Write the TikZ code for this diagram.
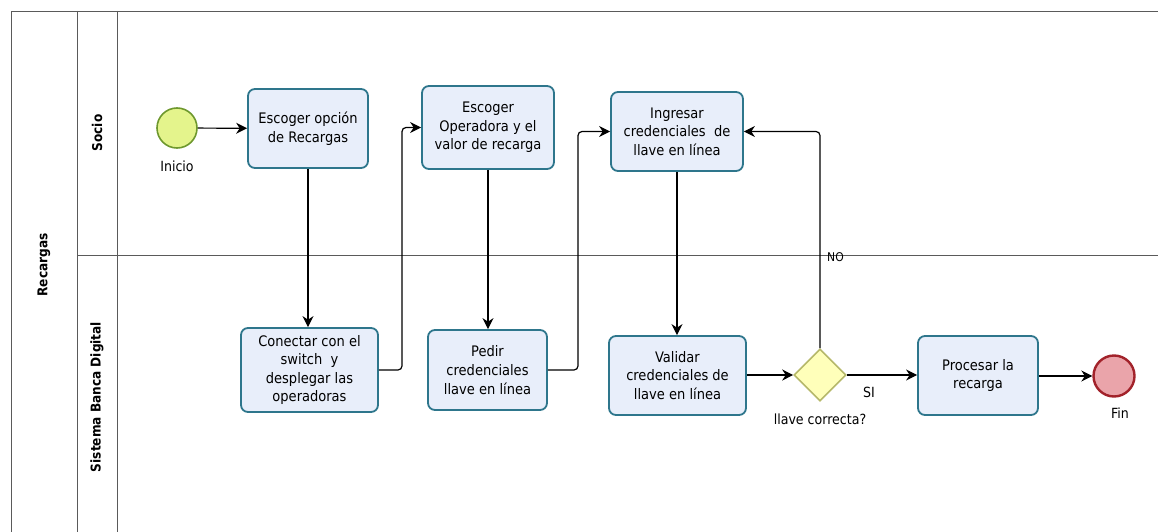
\documentclass[tikz,border=0pt]{standalone}
\usepackage{fontspec}
\setmainfont{DejaVu Sans Condensed}
\usetikzlibrary{arrows.meta,shapes.geometric}

\definecolor{taskfill}{RGB}{232,238,250}
\definecolor{taskline}{RGB}{46,118,140}
\definecolor{startfill}{RGB}{228,244,140}
\definecolor{startline}{RGB}{110,152,46}
\definecolor{endfill}{RGB}{234,164,170}
\definecolor{endline}{RGB}{162,34,42}
\definecolor{gwfill}{RGB}{255,255,186}
\definecolor{gwline}{RGB}{182,184,106}
\definecolor{poolline}{RGB}{90,90,90}

\tikzset{
  task/.style={draw=taskline, fill=taskfill, line width=1.8pt, rounded corners=7pt,
    align=center, font=\fontsize{14.5}{18.6}\selectfont, inner sep=0pt},
  startev/.style={circle, draw=startline, fill=startfill, line width=1.6pt,
    minimum size=40pt, inner sep=0pt},
  endev/.style={circle, draw=endline, fill=endfill, line width=2.4pt,
    minimum size=41pt, inner sep=0pt},
  gateway/.style={diamond, draw=gwline, fill=gwfill, line width=1.6pt,
    minimum width=52pt, minimum height=52pt, inner sep=0pt},
  flow/.style={draw=black, line width=1.2pt, rounded corners=4pt,
    -{Stealth[length=11pt,width=11pt]}},
  lbl/.style={font=\fontsize{14}{16}\selectfont, inner sep=1pt},
  lanelbl/.style={font=\bfseries\fontsize{13.5}{15}\selectfont, rotate=90, inner sep=0pt},
  pool/.style={draw=poolline, line width=0.9pt}
}

\begin{document}
\begin{tikzpicture}[x=1pt, y=-1pt]
  \useasboundingbox (0,0) rectangle (1158,532);

  % pool and lanes
  \draw[pool] (11,532) -- (11,11) -- (1158,11);
  \draw[pool] (77,11) -- (77,532);
  \draw[pool] (117,11) -- (117,532);
  \draw[pool] (77,255) -- (1158,255);
  \node[lanelbl] (pname) at (44,265) {Recargas};
  \node[lanelbl] (lane1) at (97,133) {Socio};
  \node[lanelbl] (lane2) at (97,397) {Sistema Banca Digital};

  % events and tasks
  \node[startev] (start) at (177,128) {};
  \node[lbl, anchor=north] (startlbl) at (177,160) {Inicio};

  \node[task, minimum width=120pt, minimum height=79pt] (t1) at (308,128.5)
    {Escoger opción\\de Recargas};
  \node[task, minimum width=132pt, minimum height=83pt] (t2) at (488,127.5)
    {Escoger\\Operadora y el\\valor de recarga};
  \node[task, minimum width=132pt, minimum height=79pt] (t3) at (677,131.5)
    {Ingresar\\credenciales\ \ de\\llave en línea};

  \node[task, minimum width=137pt, minimum height=84pt] (t4) at (309.5,370)
    {Conectar con el\\switch\ \ y\\desplegar las\\operadoras};
  \node[task, minimum width=119pt, minimum height=80pt] (t5) at (487.5,370)
    {Pedir\\credenciales\\llave en línea};
  \node[task, minimum width=137pt, minimum height=79pt] (t6) at (677.5,375.5)
    {Validar\\credenciales de\\llave en línea};

  \node[gateway] (gw) at (820,375) {};
  \node[lbl, anchor=north] (gwlbl) at (820,413) {llave correcta?};

  \node[task, minimum width=120pt, minimum height=79pt] (t7) at (978,375.5)
    {Procesar la\\recarga};

  \node[endev] (fin) at (1114,376) {};
  \node[lbl, anchor=north] (finlbl) at (1120,407) {Fin};

  % sequence flows
  \draw[flow] (start) -- (t1);
  \draw[flow] (t1.south) -- (t4.north -| t1.south);
  \draw[flow] (t4.east) -- (402,370) |- (t2.west);
  \draw[flow] (t2.south) -- (t5.north -| t2.south);
  \draw[flow] (t5.east) -- (578,370) |- (t3.west);
  \draw[flow] (t3.south) -- (t3.south |- t6.north);
  \draw[flow] (t6.east |- gw.west) -- (gw.west);
  \draw[flow] (gw.north) |- (t3.east);
  \draw[flow] (gw.east) -- (t7.west |- gw.east);
  \draw[flow] (t7.east |- fin.west) -- (fin.west);

  % flow labels
  \node[font=\fontsize{12}{14}\selectfont, anchor=west, inner sep=0pt] (nolbl) at (827,257) {NO};
  \node[lbl, anchor=west] (silbl) at (862,392) {SI};
\end{tikzpicture}
\end{document}
